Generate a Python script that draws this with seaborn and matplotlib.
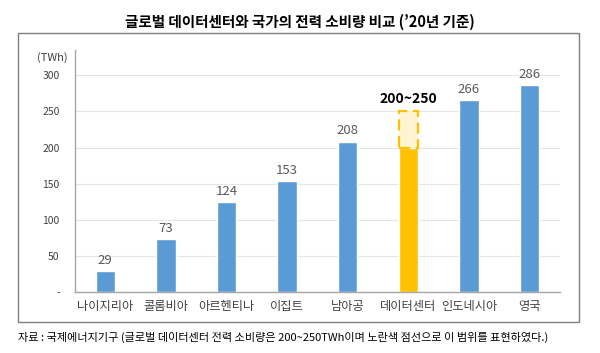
import matplotlib
matplotlib.use("Agg")
import matplotlib.pyplot as plt
import seaborn as sns
from matplotlib.patches import Rectangle

# 데이터
countries = ["나이지리아", "콜롬비아", "아르헨티나", "이집트", "남아공", "데이터센터", "인도네시아", "영국"]
values = [29, 73, 124, 153, 208, 200, 266, 286]
labels = ["29", "73", "124", "153", "208", "200~250", "266", "286"]
dc_low, dc_high = 200, 250
yticks = [0, 50, 100, 150, 200, 250, 300]
ytick_labels = ["-", "50", "100", "150", "200", "250", "300"]

blue = "#5B9BD5"
yellow = "#FFC000"
colors = [yellow if c == "데이터센터" else blue for c in countries]

sns.set_theme(style="white")
plt.rcParams['font.family'] = ['Noto Sans CJK KR', 'DejaVu Sans']

fig = plt.figure(figsize=(6, 3.53), dpi=100)
ax = fig.add_axes([0.125, 0.173, 0.808, 0.685])

sns.barplot(x=countries, y=values, hue=countries, palette=colors, legend=False,
            width=0.32, saturation=1, ax=ax)

# 데이터센터 범위 (점선 박스)
i_dc = countries.index("데이터센터")
ax.bar(i_dc, dc_high - dc_low, bottom=dc_low, width=0.32, color="#FFF4D1",
       edgecolor=yellow, linestyle=(0, (5, 2.5)), linewidth=1.6, zorder=3)

for i, (v, lab) in enumerate(zip(values, labels)):
    if countries[i] == "데이터센터":
        ax.text(i, dc_high + 8, lab, ha="center", va="bottom", fontsize=10,
                fontweight="bold", color="black")
    else:
        ax.text(i, v + 6, lab, ha="center", va="bottom", fontsize=9.5, color="#595959")

ax.set_ylim(0, 335)
ax.set_xlim(-0.5, len(countries) - 0.5)
ax.set_yticks(yticks)
ax.set_yticklabels(ytick_labels)
ax.yaxis.grid(True, color="#E6E6E6", linewidth=0.8)
ax.set_axisbelow(True)
ax.tick_params(axis="y", labelsize=7.5, colors="#404040", length=0, pad=11)
ax.tick_params(axis="x", labelsize=8.8, colors="#404040", length=0, pad=6)
for s in ["top", "right"]:
    ax.spines[s].set_visible(False)
for s in ["left", "bottom"]:
    ax.spines[s].set_color("#A6A6A6")
    ax.spines[s].set_linewidth(1)
ax.set_xlabel("")
ax.set_ylabel("")

fig.text(0.113, 0.838, "(TWh)", ha="right", va="center", fontsize=8, color="#404040")

# 외곽 박스
fig.patches.append(Rectangle((0.03, 0.087), 0.935, 0.82, transform=fig.transFigure,
                             fill=False, edgecolor="#7F7F7F", linewidth=1))

fig.text(0.5, 0.938, "글로벌 데이터센터와 국가의 전력 소비량 비교 (’20년 기준)",
         ha="center", va="center", fontsize=10.5, fontweight="bold", color="black")
fig.text(0.03, 0.043, "자료 : 국제에너지기구 (글로벌 데이터센터 전력 소비량은 200~250TWh이며 노란색 점선으로 이 범위를 표현하였다.)",
         ha="left", va="center", fontsize=8, color="black")

fig.savefig("out.png", dpi=100)
